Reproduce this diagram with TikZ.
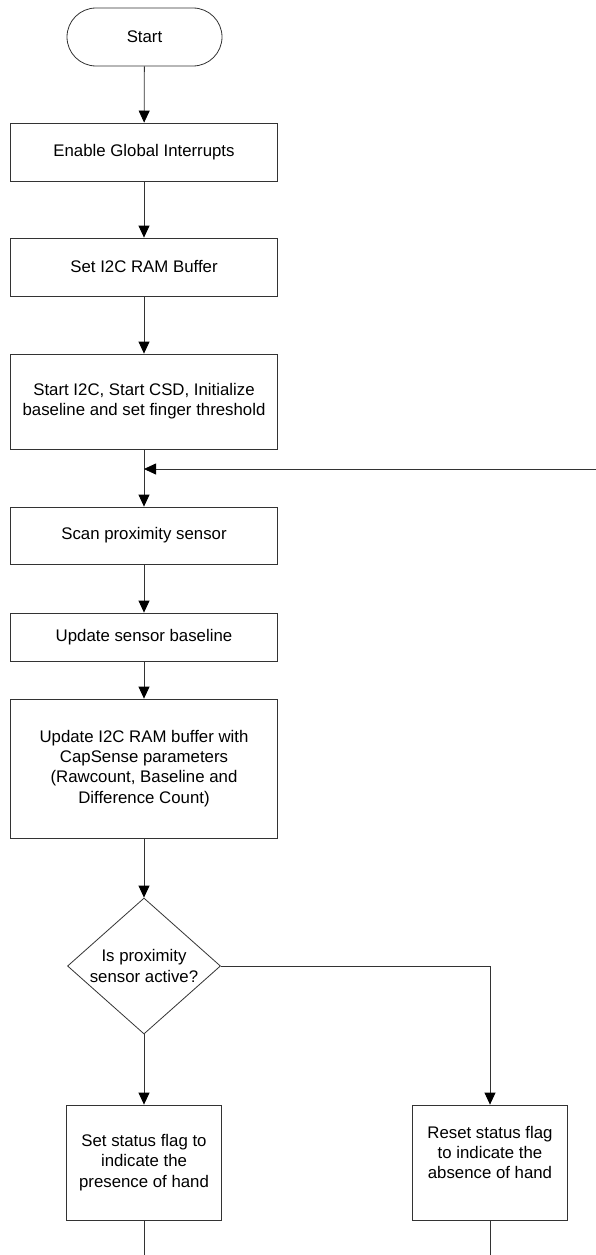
\documentclass[tikz,border=0pt]{standalone}
\usepackage{fontspec}
\setmainfont{Liberation Sans}
\usepackage{tikz}
\usetikzlibrary{arrows.meta,positioning,shapes.geometric}

\begin{document}
\begin{tikzpicture}[
    x=1pt,y=-1pt,
    block/.style={draw=black!80,line width=0.8pt,align=center,minimum width=267pt,
                  inner sep=0pt,font=\fontsize{16.8}{20.2}\selectfont},
    smallblock/.style={block,minimum width=155pt,minimum height=115pt},
    terminal/.style={draw=black!80,line width=0.8pt,rounded corners=29pt,
                  minimum width=155pt,minimum height=58pt,
                  font=\fontsize{16.8}{20.2}\selectfont},
    decision/.style={draw=black!80,line width=0.8pt,diamond,aspect=1.125,
                  inner sep=0pt,minimum width=153pt,minimum height=136pt,
                  align=center,font=\fontsize{16.8}{20.2}\selectfont},
    arrow/.style={-{Triangle[length=12pt,width=11pt,color=black]},line width=0.8pt,draw=black!80},
    line/.style={line width=0.8pt,draw=black!80}
]
\useasboundingbox (0,0) rectangle (596,1255);

\node[terminal] (start) at (144.5,37) {Start};
\node[block,minimum height=58pt] (enable) at (144,152) {Enable Global Interrupts};
\node[block,minimum height=58pt] (rambuf) at (144,267) {Set I2C RAM Buffer};
\node[block,minimum height=95pt] (init) at (144,401.5)
    {Start I2C, Start CSD, Initialize\\baseline and set finger threshold};
\node[block,minimum height=57pt] (scan) at (144,535.5) {Scan proximity sensor};
\node[block,minimum height=48pt] (baseline) at (144,637) {Update sensor baseline};
\node[block,minimum height=139pt] (update) at (144,768.5)
    {Update I2C RAM buffer with\\CapSense parameters\\(Rawcount, Baseline and\\Difference Count)};
\node[decision] (active) at (144,966) {Is proximity\\sensor active?};
\node[smallblock] (setflag) at (144,1162.5)
    {Set status flag to\\indicate the\\presence of hand};
\node[smallblock] (resetflag) at (490,1162.5)
    {Reset status flag\\to indicate the\\absence of hand\\~};

\coordinate (loopin) at (596,469);
\coordinate (loopjoin) at (144,469);
\coordinate (setout) at (144,1255);
\coordinate (resetout) at (490,1255);

\draw[arrow] (start) -- (enable);
\draw[arrow] (enable) -- (rambuf);
\draw[arrow] (rambuf) -- (init);
\draw[arrow] (init) -- (scan);
\draw[arrow] (loopin) -- (loopjoin);
\draw[arrow] (scan) -- (baseline);
\draw[arrow] (baseline) -- (update);
\draw[arrow] (update) -- (active);
\draw[arrow] (active.south) -- (setflag.north);
\draw[arrow] (active.east) -| (resetflag.north);
\draw[line] (setflag) -- (setout);
\draw[line] (resetflag) -- (resetout);
\end{tikzpicture}
\end{document}
